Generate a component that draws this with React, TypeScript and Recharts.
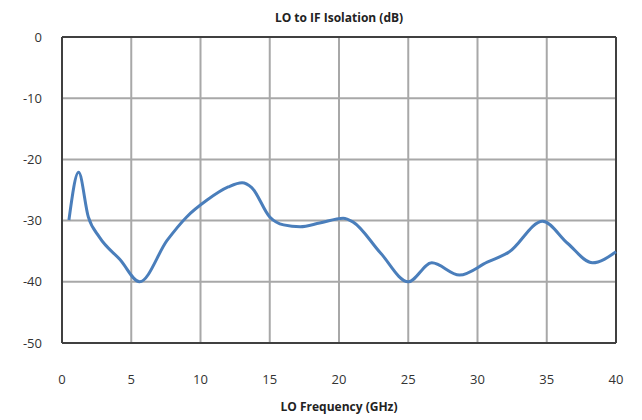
import { LineChart, Line, XAxis, YAxis, CartesianGrid, ReferenceLine } from "recharts";

// LO frequency (GHz) and LO-to-IF isolation (dB)
const freqGHz = [0.5, 1.2, 1.9, 2.7, 4.2, 5.6, 7.6, 9.0, 10.5, 12.0, 13.0, 13.7, 15.0, 16.0, 17.2, 18.6, 20.3, 21.0, 23.0, 25.0, 26.7, 28.7, 30.7, 32.3, 34.7, 36.5, 38.3, 40.0];
const isolationDb = [-29.9, -22.1, -29.4, -32.7, -36.4, -40.0, -33.2, -29.4, -26.6, -24.5, -23.8, -24.6, -29.4, -30.7, -31.0, -30.4, -29.6, -30.2, -35.3, -40.0, -36.9, -38.9, -36.8, -35.1, -30.1, -33.7, -36.9, -35.1];

const xTicks = [0, 5, 10, 15, 20, 25, 30, 35, 40];
const yTicks = [0, -10, -20, -30, -40, -50];

const data = freqGHz.map((f, i) => ({ f, v: isolationDb[i] }));

const font = "'Open Sans', 'Liberation Sans', sans-serif";

export default function App() {
  return (
    <div style={{ position: "absolute", left: 0, top: 0, width: 642, height: 420, background: "#fff", fontFamily: font }}>
      <div style={{ position: "absolute", top: 9, left: 62, width: 554, textAlign: "center", fontSize: 12, fontWeight: 700, color: "#222" }}>
        LO to IF Isolation (dB)
      </div>

      <LineChart width={642} height={420} data={data} margin={{ top: 37, right: 26, left: 0, bottom: 0 }}>
        <CartesianGrid stroke="#a8a8a8" strokeWidth={2} />
        <XAxis
          dataKey="f"
          type="number"
          domain={[0, 40]}
          ticks={xTicks}
          height={77}
          tickLine={false}
          tickMargin={26}
          axisLine={{ stroke: "#404040", strokeWidth: 2 }}
          tick={{ fill: "#333", fontSize: 13, fontFamily: font }}
        />
        <YAxis
          type="number"
          domain={[-50, 0]}
          ticks={yTicks}
          width={62}
          tickLine={false}
          tickMargin={14}
          axisLine={{ stroke: "#404040", strokeWidth: 2 }}
          tick={{ fill: "#333", fontSize: 13, fontFamily: font }}
        />
        <ReferenceLine x={40} stroke="#404040" strokeWidth={2} />
        <ReferenceLine y={0} stroke="#404040" strokeWidth={2} />
        <Line
          type="monotone"
          dataKey="v"
          stroke="#4a7ebb"
          strokeWidth={3}
          dot={false}
          isAnimationActive={false}
        />
      </LineChart>

      <div style={{ position: "absolute", top: 398, left: 62, width: 554, textAlign: "center", fontSize: 12, fontWeight: 700, color: "#222" }}>
        LO Frequency (GHz)
      </div>
    </div>
  );
}
